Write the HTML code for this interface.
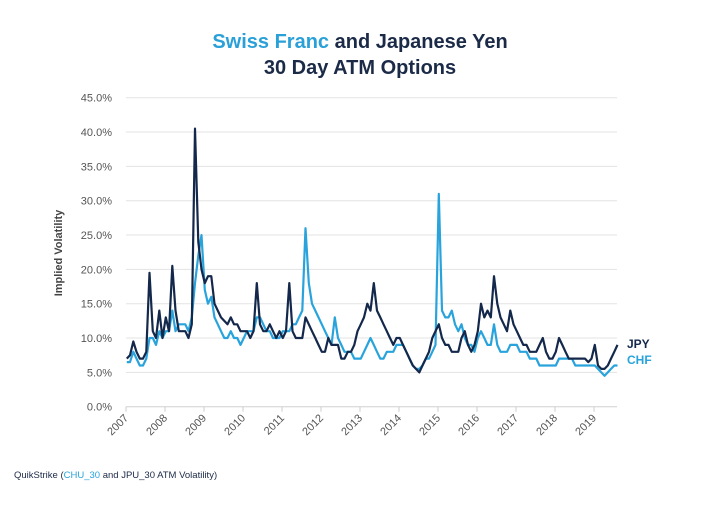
<!DOCTYPE html>
<html><head><meta charset="utf-8">
<style>
body{margin:0;background:#fff;width:720px;height:500px;overflow:hidden;font-family:"Liberation Sans",sans-serif;}
</style></head>
<body>
<svg width="720" height="500" font-family="Liberation Sans, sans-serif">
<text x="360" y="48" text-anchor="middle" font-size="20" font-weight="bold" fill="#1b2a47"><tspan fill="#2aa0d8">Swiss Franc</tspan> and Japanese Yen</text>
<text x="360" y="74" text-anchor="middle" font-size="20" font-weight="bold" fill="#1b2a47">30 Day ATM Options</text>
<text transform="translate(62,253) rotate(-90)" text-anchor="middle" font-size="11" font-weight="bold" fill="#444">Implied Volatility</text>
<g id="grid"></g><g id="yt"></g><g id="xt"></g><g id="lines"></g>
<text x="627" y="348" font-size="12" font-weight="bold" fill="#14284b">JPY</text>
<text x="627" y="364" font-size="12" font-weight="bold" fill="#29a3dc">CHF</text>
<text x="14" y="478" font-size="9.5" fill="#1b2a47">QuikStrike (<tspan fill="#29a3dc">CHU_30</tspan> and JPU_30 ATM Volatility)</text>
</svg>
<script>
const yTicks=[0,5,10,15,20,25,30,35,40,45];
const years=[2007,2008,2009,2010,2011,2012,2013,2014,2015,2016,2017,2018,2019];
const jpy=[7,7.5,9.5,8,7,7,8,19.5,11,10,14,10,
13,11,20.5,14,11,11,11,10,12,40.5,24,20,
18,19,19,15,14,13,12.5,12,13,12,12,11,
11,11,10,11,18,12,11,11,12,11,10,11,
10,11,18,11,10,10,10,13,12,11,10,9,
8,8,10,9,9,9,7,7,8,8,9,11,
12,13,15,14,18,14,13,12,11,10,9,10,
10,9,8,7,6,5.5,5,6,7,8,10,11,
12,10,9,9,8,8,8,10,11,9,8,9,
11,15,13,14,13,19,15,13,12,11,14,12,
11,10,9,9,8,8,8,9,10,8,7,7,
8,10,9,8,7,7,7,7,7,7,6.5,7,
9,6,5.5,5.5,6,7,8,9];
const chf=[6.5,6.5,8,7,6,6,7,10,10,9,11,10,
11,11,14,11,12,12,12,11,13,18,22,25,
17,15,16,13,12,11,10,10,11,10,10,9,
10,11,11,11,13,13,12,11,11,10,10,10,
11,11,11,12,12,13,14,26,18,15,14,13,
12,11,10,9,13,10,9,8,8,8,7,7,
7,8,9,10,9,8,7,7,8,8,8,9,
9,9,8,7,6,5.5,5.5,6,7,7,8,9,
31,14,13,13,14,12,11,12,10,9,9,8,
10,11,10,9,9,12,9,8,8,8,9,9,
9,8,8,8,7,7,7,6,6,6,6,6,
6,7,7,7,7,7,6,6,6,6,6,6,
6,5.5,5,4.5,5,5.5,6,6];
const NS="http://www.w3.org/2000/svg";
const x0=126,yr=39.0,y0=406.7,per=34.33/5,xEnd=617;
const X=t=>x0+(t-2007)*yr, Y=v=>y0-v*per;
function mk(tag,at,par){const e=document.createElementNS(NS,tag);for(const k in at)e.setAttribute(k,at[k]);document.getElementById(par).appendChild(e);return e;}
yTicks.forEach(v=>{
 const l=mk('line',{x1:x0,x2:xEnd,y1:Y(v),y2:Y(v),stroke:v===0?'#d0d0d0':'#e3e3e3','stroke-width':1},'grid');
 
 
 const t=mk('text',{x:112,y:Y(v)+4,'text-anchor':'end','font-size':11,fill:'#555'},'yt');
 t.textContent=v.toFixed(1)+'%';
 
 
});
years.forEach(y=>{
 const tk=mk('line',{x1:X(y),x2:X(y),y1:y0,y2:y0+5,stroke:'#ccc'},'xt');
 
 
 const t=mk('text',{transform:`translate(${X(y)+3},${y0+12}) rotate(-45)`,'text-anchor':'end','font-size':11,fill:'#555'},'xt');
 t.textContent=y;
 
 
});
function line(arr,col,name){
 const d=arr.map((v,i)=>(i?'L':'M')+X(2007+i/12+0.02).toFixed(1)+','+Y(v).toFixed(1)).join('');
 const p=mk('path',{d:d,fill:'none',stroke:col,'stroke-width':2.2,'stroke-linejoin':'round'},'lines');
 
 
}
line(chf,'#29a3dc','chf-line');
line(jpy,'#14284b','jpy-line');
</script>
</body></html>
